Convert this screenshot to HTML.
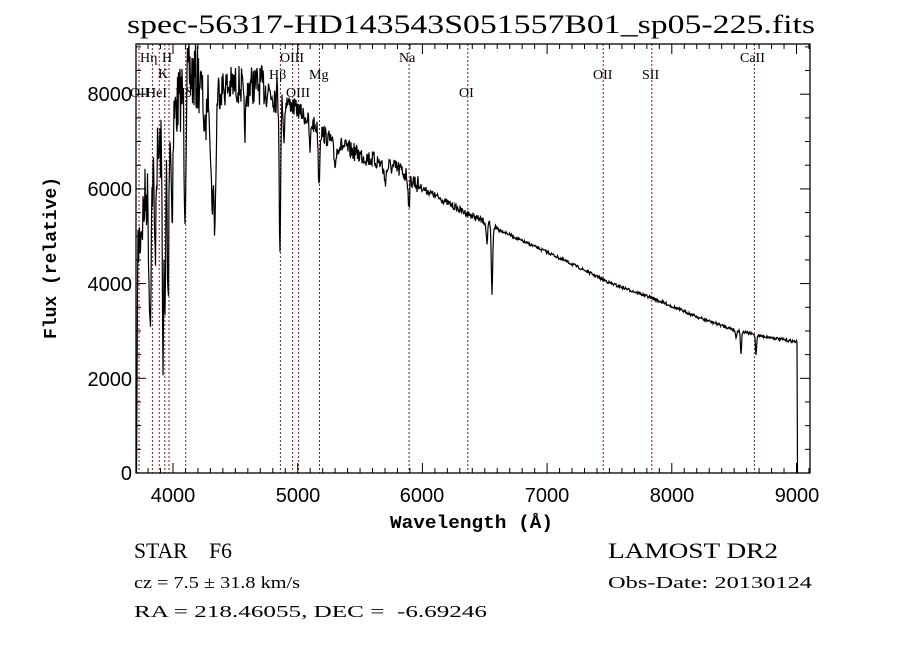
<!DOCTYPE html>
<html><head><meta charset="utf-8">
<style>
html,body{margin:0;padding:0;background:#fff;}
svg{display:block;}
</style></head>
<body>
<svg id="s" width="900" height="649" xmlns="http://www.w3.org/2000/svg">
<rect width="900" height="649" fill="#fff"/>
<text x="127" y="33" textLength="688" lengthAdjust="spacingAndGlyphs" font-family="Liberation Serif, serif" font-size="26" fill="#000">spec-56317-HD143543S051557B01_sp05-225.fits</text>
<g id="lines" stroke="#8b1a1a" stroke-width="1" stroke-dasharray="2,2"></g>
<g font-family="Liberation Serif, serif" font-size="14" fill="#000">
<text x="140" y="62">Hη</text><text x="162" y="62">H</text><text x="158" y="78">K</text>
<text x="130" y="97">OII</text><text x="146" y="97">HeI</text><text x="175" y="97">Hδ</text>
<text x="280" y="62">OIII</text><text x="269" y="79">Hβ</text><text x="309" y="79">Mg</text>
<text x="286" y="97">OIII</text><text x="399" y="62">Na</text><text x="459" y="97">OI</text>
<text x="593" y="79">OII</text><text x="642" y="79">SII</text><text x="740" y="62">CaII</text>
</g>
<polyline id="spec" fill="none" stroke="#000" stroke-width="1.2" points=""/>
<g id="ticks" stroke="#000" stroke-width="1"></g>
<rect x="136" y="44" width="674" height="429" fill="none" stroke="#000" stroke-width="1.3"/>
<g font-family="Liberation Sans, sans-serif" font-size="20" fill="#000" text-anchor="middle">
<text x="173" y="502">4000</text><text x="298" y="502">5000</text><text x="422" y="502">6000</text>
<text x="547" y="502">7000</text><text x="672" y="502">8000</text><text x="797" y="502">9000</text>
</g>
<g font-family="Liberation Sans, sans-serif" font-size="20" fill="#000" text-anchor="end">
<text x="132" y="480">0</text><text x="132" y="386">2000</text><text x="132" y="291">4000</text>
<text x="132" y="196">6000</text><text x="132" y="101">8000</text>
</g>
<text x="390" y="528" textLength="163" lengthAdjust="spacingAndGlyphs" font-family="Liberation Mono, monospace" font-weight="bold" font-size="18">Wavelength (Å)</text>
<text transform="translate(56,258) rotate(-90)" text-anchor="middle" font-family="Liberation Mono, monospace" font-weight="bold" font-size="18">Flux (relative)</text>
<text x="134" y="558" textLength="98" lengthAdjust="spacingAndGlyphs" font-family="Liberation Serif, serif" font-size="22" xml:space="preserve">STAR    F6</text>
<text x="608" y="558" textLength="170" lengthAdjust="spacingAndGlyphs" font-family="Liberation Serif, serif" font-size="22">LAMOST DR2</text>
<text x="134" y="588" textLength="166" lengthAdjust="spacingAndGlyphs" font-family="Liberation Serif, serif" font-size="17">cz = 7.5 ± 31.8 km/s</text>
<text x="608" y="588" textLength="204" lengthAdjust="spacingAndGlyphs" font-family="Liberation Serif, serif" font-size="17">Obs-Date: 20130124</text>
<text x="134" y="617" textLength="353" lengthAdjust="spacingAndGlyphs" font-family="Liberation Serif, serif" font-size="17" xml:space="preserve">RA = 218.46055, DEC =  -6.69246</text>
</svg>
<script>
var NS="http://www.w3.org/2000/svg";
function X(w){return 173+(w-4000)*0.1247;}
function Y(f){return 473-f*0.04735;}
var L=document.getElementById('lines');
[3727,3835,3889,3934,3968,4102,4861,4959,5007,5175,5893,6364,7450,7840,8662].forEach(function(w){
 var l=document.createElementNS(NS,'line');var x=X(w).toFixed(1);
 l.setAttribute('x1',x);l.setAttribute('x2',x);l.setAttribute('y1',44);l.setAttribute('y2',473);L.appendChild(l);});
var T=document.getElementById('ticks');
function ln(a,b,c,d){var l=document.createElementNS(NS,'line');l.setAttribute('x1',a);l.setAttribute('y1',b);l.setAttribute('x2',c);l.setAttribute('y2',d);T.appendChild(l);}
for(var w=3800;w<=9100;w+=100){var x=X(w);if(x<136||x>810)continue;var len=(w%1000==0)?10:5;ln(x,473,x,473-len);ln(x,44,x,44+len);}
for(var f=0;f<=9000;f+=500){var y=Y(f);if(y<44)continue;var len=(f%2000==0)?10:5;ln(136,y,136+len,y);ln(810,y,810-len,y);}
var A=[[136,473],[138,250],[145,200],[160,150],[175,110],[190,75],[215,90],[235,85],[260,85],[278,95],[298,110],[330,140],[360,155],[400,170],[422,188],[460,210],[485,222],[520,240],[547,252],[580,268],[610,283],[652,298],[700,318],[735,330],[756,335],[797,342]];
function cont(x){for(var i=1;i<A.length;i++){if(x<=A[i][0]){var t=(x-A[i-1][0])/(A[i][0]-A[i-1][0]);return A[i-1][1]+t*(A[i][1]-A[i-1][1]);}}return 342;}
var D=[[150,130,1.5],[155,90,1],[163,200,1],[165,190,1],[168,180,1],[172,90,1.2],[185,110,1.2],[212,110,2],[215,120,1.5],[205,50,2],[245,40,2],[280,150,1],[284,40,1],[319,55,1],[310,30,1],[409,25,1.2],[492,68,1],[487,20,1],[741,22,0.8],[756,20,0.8],[736,8,0.8],[335,20,2],[385,15,2]];
var seed=7;function rnd(){seed=(seed*16807)%2147483647;return seed/2147483647-0.5;}
var pts=[];
for(var x=136.5;x<=797;x+=0.5){
 var y=cont(x);
 var amp=x<200?70:x<280?40:x<420?18:x<500?7:3;
 y+=rnd()*amp;
 D.forEach(function(d){y+=d[1]*Math.exp(-Math.pow((x-d[0])/d[2],2));});
 if(x<137)y=473;
 y=Math.max(44,Math.min(473,y));
 pts.push(x.toFixed(1)+','+y.toFixed(1));
}
pts.push('797.5,473');
document.getElementById('spec').setAttribute('points',pts.join(' '));
</script>
</body></html>
